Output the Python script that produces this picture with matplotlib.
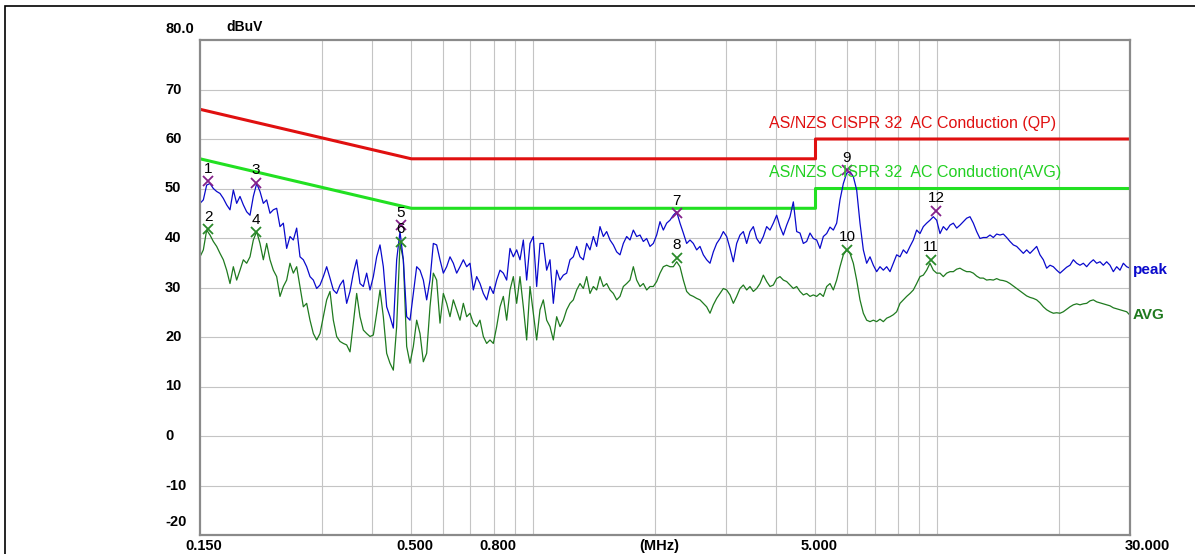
import matplotlib
matplotlib.use('Agg')
import matplotlib.pyplot as plt
import numpy as np
from matplotlib.patches import Rectangle
from matplotlib.transforms import blended_transform_factory, offset_copy

plt.rcParams['font.family'] = ['Liberation Sans', 'DejaVu Sans']

# limit lines (MHz, dBuV)
qp_freq = [0.15, 0.5, 5.0, 5.0, 30.0]
qp_level = [66, 56, 56, 60, 60]
avg_lim_freq = [0.15, 0.5, 5.0, 5.0, 30.0]
avg_lim_level = [56, 46, 46, 50, 50]

peak_dbuv = [
    47.0, 47.7, 50.7, 51.0, 50.0, 49.4, 49.0, 48.0, 46.7, 45.7, 49.7, 47.0, 48.4,
    46.7, 45.3, 44.6, 48.4, 51.0, 49.4, 47.0, 47.7, 45.0, 45.7, 46.0, 42.3, 43.0,
    37.9, 40.3, 39.6, 42.0, 36.2, 35.6, 34.2, 32.2, 31.5, 29.8, 30.5, 32.2, 34.2,
    31.9, 29.5, 28.8, 30.5, 31.5, 26.8, 29.2, 32.9, 35.6, 30.8,
    30.2, 32.9, 29.5, 32.2, 36.2, 38.6, 34.2, 26.1, 24.1, 21.8, 35.6, 41.3, 35.6,
    24.1, 23.4, 28.8, 34.2, 33.5, 31.5, 27.5, 31.5, 38.9, 38.6, 35.6, 32.9, 34.2,
    36.2, 34.9, 32.9, 34.2, 35.6, 34.2, 34.9, 29.5, 32.2, 30.8, 28.8, 27.5, 30.2,
    28.8, 31.5, 33.5, 32.9, 31.5, 37.9, 36.2,
    37.6, 35.6, 39.6, 31.5, 38.9, 40.3, 30.2, 38.9, 38.9, 33.5, 35.6, 26.8, 33.5,
    31.5, 32.5, 32.9, 35.6, 36.2, 38.3, 36.2, 35.6, 38.9, 37.6, 40.3, 38.3, 42.3,
    40.3, 41.3, 39.6, 38.6, 37.2, 36.6, 38.9, 40.3, 39.6, 41.6, 40.3, 40.6, 39.3,
    39.9, 38.3, 38.9, 40.6, 43.3, 41.6, 43.0, 43.6,
    44.6, 45.3, 43.0, 41.0, 38.9, 39.6, 38.9, 37.6, 38.3, 36.6, 35.6, 34.9, 37.2,
    38.9, 39.9, 41.3, 40.3, 37.9, 35.2, 38.9, 40.6, 41.3, 38.9, 41.3, 42.3, 39.9,
    38.9, 40.3, 42.3, 41.6, 43.0, 44.6, 42.3, 40.6, 42.6, 44.3, 47.3, 41.3, 41.0,
    38.9, 39.3, 41.0, 39.9, 39.6, 37.9, 40.3,
    40.9, 42.2, 41.6, 43.0, 47.7, 51.0, 53.1, 53.4, 52.4, 49.7, 43.0, 37.6, 34.9,
    36.2, 34.5, 33.2, 34.2, 33.5, 34.2, 33.2, 34.9, 36.6, 36.2, 37.6, 36.9, 38.3,
    39.6, 41.6, 40.9, 42.3, 43.0, 43.6, 44.3, 43.6, 40.9, 42.3, 41.6, 42.6, 43.0,
    42.0, 42.6, 43.3, 44.0, 44.3, 43.0, 41.3, 39.9,
    40.1, 40.1, 40.6, 40.1, 40.8, 40.6, 40.8, 40.1, 39.3, 38.6, 38.3, 37.6, 36.9,
    37.6, 36.9, 37.6, 38.3, 36.6, 35.6, 33.9, 34.5, 34.2, 33.5, 32.9, 33.5, 34.1,
    34.5, 35.6, 34.9, 34.5, 34.9, 34.2, 35.0, 35.6, 34.9, 35.2, 34.5, 35.2, 34.5,
    33.2, 34.2, 33.5, 34.9, 34.2, 33.9,
]
avg_dbuv = [
    36.2, 37.6, 41.6, 40.6, 39.3, 38.3, 36.9, 35.6, 33.5, 30.8, 34.2, 31.5, 33.5,
    35.6, 34.9, 36.2, 39.6, 41.3, 38.9, 35.6, 38.9, 35.6, 33.5, 32.2, 28.2, 30.2,
    31.5, 34.9, 32.9, 34.2, 30.2, 26.1, 26.8, 23.4, 20.7, 19.4, 20.7, 24.1, 27.5,
    29.2, 23.4, 20.1, 19.1, 18.7, 18.4, 17.0, 22.8, 28.8, 24.1,
    21.4, 20.7, 20.1, 20.4, 24.8, 29.5, 24.1, 16.7, 14.7, 13.3, 22.1, 38.9, 35.6,
    18.1, 14.7, 18.1, 23.4, 20.7, 15.0, 16.7, 26.1, 32.9, 31.5, 22.8, 28.8, 26.8,
    24.1, 27.5, 25.5, 23.4, 26.8, 24.1, 24.8, 22.8, 22.1, 23.4, 20.1, 18.7, 19.4,
    18.7, 22.1, 26.1, 28.2, 23.4, 29.5, 32.2,
    26.8, 32.2, 26.1, 19.4, 30.2, 24.8, 19.4, 25.5, 27.5, 23.4, 22.1, 19.4, 24.1,
    22.1, 23.4, 25.5, 26.8, 27.5, 29.5, 30.8, 29.8, 32.2, 28.8, 30.2, 29.5, 32.2,
    30.2, 30.8, 29.5, 28.8, 27.5, 28.2, 30.2, 30.8, 31.5, 34.2, 31.5, 30.2, 30.8,
    29.5, 30.2, 30.2, 31.2, 32.9, 34.2, 34.5, 34.2,
    34.2, 35.2, 34.2, 31.5, 29.2, 28.5, 28.2, 27.8, 27.5, 26.8, 26.1, 24.8, 26.5,
    27.8, 28.8, 29.8, 29.5, 28.5, 26.8, 28.2, 29.8, 30.5, 29.5, 30.2, 29.2, 29.8,
    30.8, 32.5, 31.2, 30.2, 30.5, 31.8, 32.2, 31.5, 31.2, 30.5, 29.8, 30.2, 29.2,
    28.5, 28.8, 28.2, 28.5, 28.2, 28.8, 28.2,
    30.2, 30.8, 29.5, 31.5, 34.2, 36.6, 37.6, 36.9, 34.9, 31.5, 27.5, 24.8, 23.4,
    23.1, 23.4, 23.1, 23.6, 23.1, 23.8, 24.1, 24.5, 25.1, 26.8, 27.5, 28.2, 28.8,
    29.5, 30.8, 32.2, 32.5, 33.5, 34.9, 33.5, 32.9, 32.9, 32.2, 32.9, 33.2, 33.2,
    33.7, 33.9, 33.5, 33.2, 33.2, 32.9, 32.3, 31.9,
    31.9, 31.5, 31.6, 31.5, 31.8, 31.5, 31.4, 31.2, 30.8, 30.3, 29.8, 29.3, 28.8,
    28.3, 28.0, 27.8, 27.5, 26.9, 26.1, 25.5, 25.1, 24.8, 24.9, 24.8, 25.1, 25.6,
    26.1, 26.5, 26.7, 26.5, 26.7, 26.8, 27.3, 27.5, 27.1, 26.9, 26.7, 26.5, 26.3,
    25.9, 25.7, 25.5, 25.3, 25.1, 24.4,
]
freq = np.geomspace(0.15, 30.0, len(peak_dbuv))

# marked points
peak_mk_no = ['1', '3', '5', '7', '9', '12']
peak_mk_freq = [0.157, 0.206, 0.471, 2.27, 5.98, 9.93]
peak_mk_val = [51.5, 51.1, 42.6, 45.0, 53.7, 45.5]
avg_mk_no = ['2', '4', '6', '8', '10', '11']
avg_mk_freq = [0.157, 0.206, 0.471, 2.27, 5.98, 9.65]
avg_mk_val = [41.8, 41.2, 39.2, 36.0, 37.6, 35.6]

y_ticks = [80, 70, 60, 50, 40, 30, 20, 10, 0, -10, -20]
y_labels = ['80.0', '70', '60', '50', '40', '30', '20', '10', '0', '-10', '-20']
x_grid = [0.3, 0.4, 0.5, 0.6, 0.7, 0.8, 0.9, 1, 2, 3, 4, 5, 6, 7, 8, 9, 10, 20]
x_ticks = [0.15, 0.5, 0.8, 5.0, 30.0]
x_labels = ['0.150', '0.500', '0.800', '5.000', '30.000']

W, H = 1195, 554
fig = plt.figure(figsize=(W / 100, H / 100), dpi=100)
ax = fig.add_axes([200 / W, 1 - 535 / H, 930 / W, 495 / H])

ax.set_xscale('log')
ax.set_xlim(0.15, 30)
ax.set_ylim(-20, 80)
for g in x_grid:
    ax.axvline(g, color='#c4c4c4', lw=0.8, zorder=0)
for g in range(-10, 80, 10):
    ax.axhline(g, color='#c4c4c4', lw=0.8, zorder=0)
ax.set_xticks([])
ax.set_yticks([])
ax.minorticks_off()
for s in ax.spines.values():
    s.set_color('#8a8a8a')
    s.set_linewidth(1.6)

ax.plot(qp_freq, qp_level, color='#e01010', lw=2.2)
ax.plot(avg_lim_freq, avg_lim_level, color='#22e022', lw=2.2)
ax.plot(freq, avg_dbuv, color='#1f7a1f', lw=0.9)
ax.plot(freq, peak_dbuv, color='#0a0acc', lw=0.9)

ax.plot(peak_mk_freq, peak_mk_val, 'x', color='#84208a', ms=7, mew=1.3)
ax.plot(avg_mk_freq, avg_mk_val, 'x', color='#2a8a2a', ms=7, mew=1.3)
for n, f, v in zip(peak_mk_no + avg_mk_no, peak_mk_freq + avg_mk_freq,
                   peak_mk_val + avg_mk_val):
    ax.annotate(n, (f, v), xytext=(0, 4), textcoords='offset points',
                ha='center', va='bottom', fontsize=11, color='black')

ax.text(3.84, 63.2, 'AS/NZS CISPR 32  AC Conduction (QP)', color='#e01010',
        fontsize=11.5, ha='left', va='center')
ax.text(3.84, 53.3, 'AS/NZS CISPR 32  AC Conduction(AVG)', color='#22d022',
        fontsize=11.5, ha='left', va='center')
ax.annotate('peak', (1, 33.5), xycoords=('axes fraction', 'data'),
            xytext=(2, 0), textcoords='offset points', ha='left', va='center',
            color='#0a0acc', fontsize=11, fontweight='bold')
ax.annotate('AVG', (1, 24.4), xycoords=('axes fraction', 'data'),
            xytext=(2, 0), textcoords='offset points', ha='left', va='center',
            color='#1f7a1f', fontsize=11, fontweight='bold')

# axis labels
ty = blended_transform_factory(fig.transFigure, ax.transData)
for v, lab in zip(y_ticks, y_labels):
    dy = 0
    if v == 80:
        dy = 11
    if v == -20:
        dy = 13
    ax.text(165 / W, v, lab, transform=offset_copy(ty, fig, y=dy, units='dots'),
            ha='left', va='center', fontsize=10.5, fontweight='bold')
fig.text(226 / W, 1 - 27 / H, 'dBuV', ha='left', va='center', fontsize=10,
         fontweight='bold')

tx = blended_transform_factory(ax.transData, fig.transFigure)
for f, lab in zip(x_ticks, x_labels):
    dx = 17 if f == 30.0 else 4
    ax.text(f, 1 - 546 / H, lab, transform=offset_copy(tx, fig, x=dx, units='dots'),
            ha='center', va='center', fontsize=10.5, fontweight='bold')
ax.text(2.05, 1 - 546 / H, '(MHz)', transform=tx, ha='center', va='center',
        fontsize=10.5, fontweight='bold')

fig.patches.append(Rectangle((5 / W, -0.05), 1.2, 1.05 - 6 / H, fill=False,
                             edgecolor='black', lw=1.2, transform=fig.transFigure))

fig.savefig('out.png', dpi=100)
